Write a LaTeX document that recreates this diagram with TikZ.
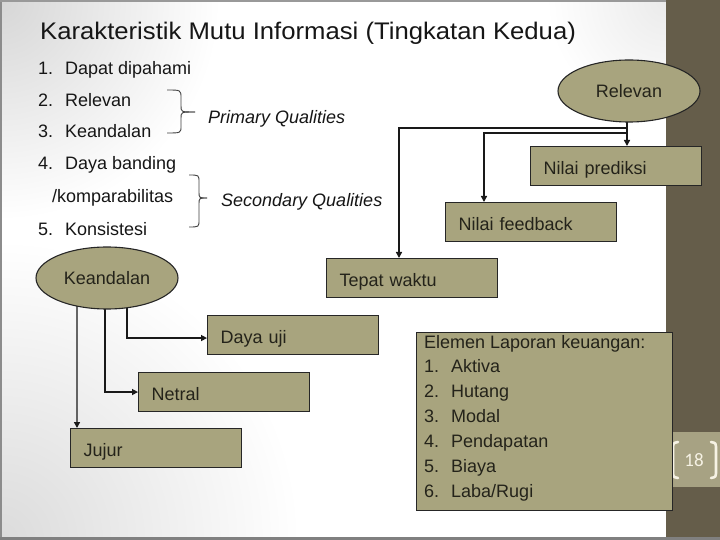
\documentclass[tikz,border=0pt]{standalone}
\usepackage{fontspec}
\setmainfont{Liberation Sans}
\newfontfamily\titlefont[FakeStretch=1.07]{Liberation Sans}
\newfontfamily\numfont{Carlito}
\usetikzlibrary{shapes.geometric,arrows.meta}
\pgfdeclarelayer{bg}
\pgfdeclarelayer{conn}
\pgfsetlayers{bg,conn,main}
\definecolor{olivebox}{HTML}{A8A47E}
\definecolor{darkband}{HTML}{655D4A}
\definecolor{lightpatch}{HTML}{A7A283}
\definecolor{txt}{HTML}{161616}
\definecolor{boxtxt}{HTML}{24231A}
\definecolor{pagetxt}{HTML}{F6F2E4}
\tikzset{
  pt18/.style={font=\fontsize{18bp}{21.6bp}\selectfont},
  listtxt/.style={pt18, text=txt, anchor=base west, inner sep=0},
  qual/.style={font=\fontsize{18bp}{21.6bp}\selectfont\itshape, text=txt, anchor=base west, inner sep=0},
  boxnode/.style={draw=black!85, line width=1.1bp, fill=olivebox, rectangle, anchor=north west,
    minimum height=39bp, text width=145bp, inner xsep=13bp, inner ysep=0, align=left, pt18, text=boxtxt,
    text height=18bp, text depth=2bp},
  ellnode/.style={draw=black!85, line width=1.1bp, fill=olivebox, ellipse, minimum width=142bp,
    minimum height=62bp, inner sep=0, pt18, text=boxtxt, text height=13bp, text depth=0bp},
  arr/.style={draw=black!90, line width=1.4bp, -{Triangle[length=6bp,width=6bp]}},
  bracepath/.style={draw=black!75, line width=0.9bp},
  eltxt/.style={pt18, text=boxtxt, anchor=base west, inner sep=0},
}
\begin{document}
\begin{tikzpicture}[x=1bp,y=-1bp]
\useasboundingbox (0,0) rectangle (720,540);
\begin{pgfonlayer}{bg}
  \fill[white] (0,0) rectangle (720,540);
  \begin{scope}
    \clip (0,0) rectangle (666,540);
    \shade[inner color=black!16, outer color=white] (0,0) circle (220);
    \shade[inner color=black!14, outer color=white] (0,540) circle (300);
    \shade[inner color=black!8, outer color=white] (666,0) circle (120);
  \end{scope}
  \fill[darkband] (666,0) rectangle (720,540);
  \fill[lightpatch] (672,432) rectangle (720,487);
  \fill[black!45] (0,0) rectangle (2,540);
  \fill[black!40] (0,0) rectangle (666,2);
  \fill[black!50] (0,537) rectangle (720,540);
  % page number brackets
  \draw[pagetxt, line width=2.6bp, line cap=round] (678,442) .. controls (673,443) .. (673,450) -- (673,470) .. controls (673,477) .. (678,478);
  \draw[pagetxt, line width=2.6bp, line cap=round] (711,442) .. controls (716,443) .. (716,450) -- (716,470) .. controls (716,477) .. (711,478);
\end{pgfonlayer}

% title
\node[anchor=base west, inner sep=0, text=txt, font=\titlefont\fontsize{24bp}{28bp}\selectfont] (title) at (40,40) {Karakteristik Mutu Informasi (Tingkatan Kedua)};

% list
\node[listtxt] (l1) at (38,74.5) {\makebox[27bp][l]{1.}Dapat dipahami};
\node[listtxt] (l2) at (38,106.5) {\makebox[27bp][l]{2.}Relevan};
\node[listtxt] (l3) at (38,137.5) {\makebox[27bp][l]{3.}Keandalan};
\node[listtxt] (l4) at (38,169.5) {\makebox[27bp][l]{4.}Daya banding};
\node[listtxt] (l4b) at (52,202.5) {/komparabilitas};
\node[listtxt] (l5) at (38,235.5) {\makebox[27bp][l]{5.}Konsistesi};

% braces
\draw[bracepath] (167,90) .. controls (181,90) .. (181,98) -- (181,106) .. controls (181,112) .. (195,112);
\draw[bracepath] (195,112) .. controls (181,112) .. (181,118) -- (181,126) .. controls (181,133) .. (167,133);
\draw[bracepath] (189,175) .. controls (199,175) .. (199,182) -- (199,192) .. controls (199,198) .. (207,198);
\draw[bracepath] (207,198) .. controls (199,198) .. (199,204) -- (199,220) .. controls (199,227) .. (189,227);

\node[qual] (prim) at (208,123.5) {Primary Qualities};
\node[qual] (sec) at (221,206.5) {Secondary Qualities};

% right tree
\node[ellnode] (rel) at (629,91) {Relevan};
\node[boxnode] (pred) at (530,146) {Nilai prediksi};
\node[boxnode] (feed) at (445,202) {Nilai feedback};
\node[boxnode] (tepat) at (326,258) {Tepat waktu};

% left tree
\node[ellnode] (kean) at (107,278) {Keandalan};
\node[boxnode] (daya) at (207,315) {Daya uji};
\node[boxnode] (netral) at (138,372) {Netral};
\node[boxnode] (jujur) at (70,428) {Jujur};

% elemen box
\node[draw=black!85, line width=1.1bp, fill=olivebox, rectangle, anchor=north west,
  minimum width=256bp, minimum height=178bp, inner sep=0] (elem) at (416,332) {};
\node[eltxt] (e0) at (424,348) {Elemen Laporan keuangan:};
\node[eltxt] (e1) at (424,372) {\makebox[27bp][l]{1.}Aktiva};
\node[eltxt] (e2) at (424,397) {\makebox[27bp][l]{2.}Hutang};
\node[eltxt] (e3) at (424,422) {\makebox[27bp][l]{3.}Modal};
\node[eltxt] (e4) at (424,447) {\makebox[27bp][l]{4.}Pendapatan};
\node[eltxt] (e5) at (424,472) {\makebox[27bp][l]{5.}Biaya};
\node[eltxt] (e6) at (424,497) {\makebox[27bp][l]{6.}Laba/Rugi};

% page number
\node[text=pagetxt, inner sep=0, font=\numfont\fontsize{19bp}{22bp}\selectfont] (pg) at (694,460) {18};

% connectors
\begin{pgfonlayer}{conn}
  \draw[arr] ([xshift=-2bp]rel.center) -- ([xshift=-2bp]rel.center |- pred.north);
  \draw[arr] ([xshift=-2bp]rel.center) -- ++(0,37) -| ([xshift=73bp]tepat.north west);
  \draw[arr] ([xshift=-2bp]rel.center) -- ++(0,42) -| ([xshift=39bp]feed.north west);
  \draw[arr] ([xshift=20bp]kean.center) |- ([yshift=-3bp]daya.west);
  \draw[arr] ([xshift=-2bp]kean.center) |- (netral.west);
  \draw[arr] ([xshift=-30bp]kean.center) -- ([xshift=7bp]jujur.north west);
\end{pgfonlayer}
\end{tikzpicture}
\end{document}
